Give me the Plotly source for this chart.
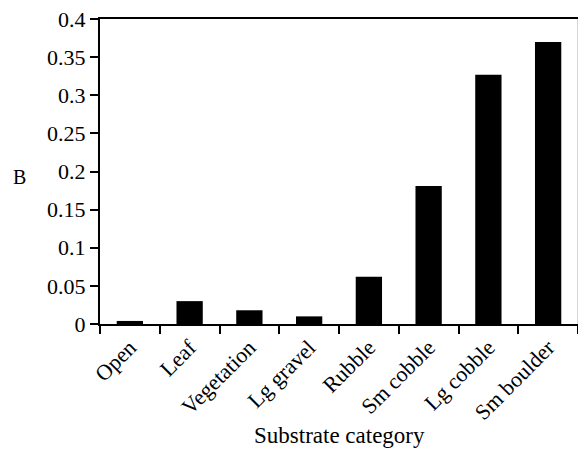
import plotly.graph_objects as go

categories = ["Open", "Leaf", "Vegetation", "Lg gravel", "Rubble", "Sm cobble", "Lg cobble", "Sm boulder"]
values = [0.004, 0.030, 0.018, 0.010, 0.062, 0.181, 0.327, 0.370]

FONT = "Liberation Serif"

fig = go.Figure(go.Bar(x=categories, y=values, marker=dict(color="black", line=dict(width=0)), width=0.44))

fig.update_layout(
    width=578, height=450,
    margin=dict(l=100, r=0, t=19, b=126),
    plot_bgcolor="white", paper_bgcolor="white",
    font=dict(family=FONT, size=22, color="black"),
    showlegend=False,
)
fig.update_xaxes(
    type="category", tickangle=-45, tickson="boundaries",
    tickfont=dict(family=FONT, size=22, color="black"),
    showline=True, linecolor="black", linewidth=2, mirror=True,
    ticks="outside", ticklen=8, tickwidth=1.5, tickcolor="black",
    showgrid=False,
)
fig.update_yaxes(
    range=[0, 0.4], dtick=0.05, tick0=0,
    tickfont=dict(family=FONT, size=22, color="black"),
    showline=True, linecolor="black", linewidth=2,
    ticks="outside", ticklen=8, tickwidth=1.5, tickcolor="black",
    showgrid=False, zeroline=False,
)
fig.add_annotation(text="B", xref="paper", yref="paper", x=-0.169, y=0.482,
                   showarrow=False, font=dict(family=FONT, size=20), xanchor="center", yanchor="middle")
fig.add_annotation(text="Substrate category", xref="paper", yref="paper", x=0.5, y=-0.364,
                   showarrow=False, font=dict(family=FONT, size=23), xanchor="center", yanchor="middle")
fig.add_shape(type="line", xref="paper", yref="paper", x0=1, x1=1, y0=0, y1=1,
              line=dict(color="#aaaaaa", width=1))

fig.write_html("out.html")
